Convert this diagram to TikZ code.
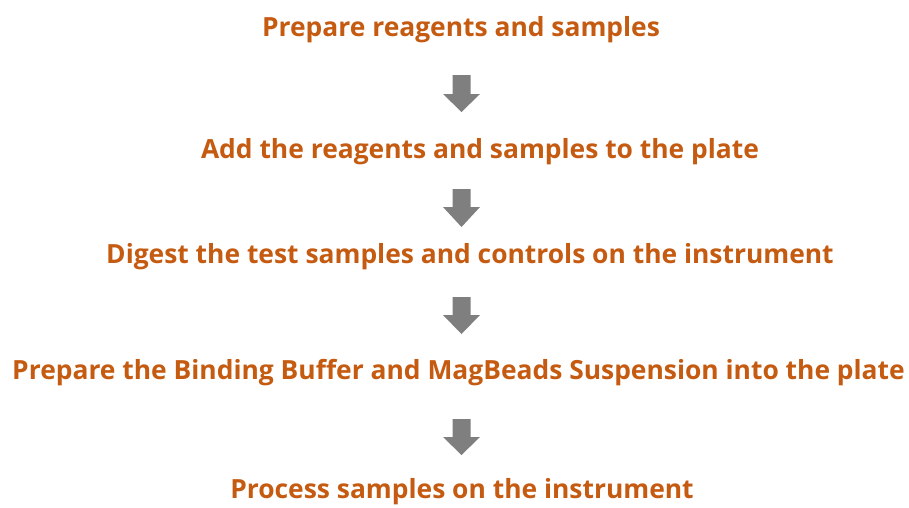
\documentclass[tikz,border=0pt]{standalone}
\usepackage{fontspec}
\setmainfont{Open Sans}[BoldFont={* Bold}]
\definecolor{steporange}{HTML}{C55A11}
\definecolor{arrowgray}{HTML}{7F7F7F}
\begin{document}
\begin{tikzpicture}[x=1pt,y=-1pt,
  steptext/.style={anchor=base,inner sep=0pt,text=steporange,font=\fontsize{26.4}{30}\selectfont\bfseries},
  blockarrow/.style={fill=arrowgray,draw=none}]
\useasboundingbox (0,0) rectangle (909,507);
\node[steptext] (s1) at (461,36.5) {Prepare reagents and samples};
\node[steptext] (s2) at (480,158.3) {Add the reagents and samples to the plate};
\node[steptext] (s3) at (470,263) {Digest the test samples and controls on the instrument};
\node[steptext] (s4) at (458.5,379) {Prepare the Binding Buffer and MagBeads Suspension into the plate};
\node[steptext] (s5) at (462,498.7) {Process samples on the instrument};
\foreach \t/\h/\b [count=\i] in {75/94/112, 189/207/227, 297/315/334, 419/437/455}{
  \fill[blockarrow] (452.5,\t) -- (470.5,\t) -- (470.5,\h) -- (480,\h) -- (461.5,\b) -- (443,\h) -- (452.5,\h) -- cycle;
}
\end{tikzpicture}
\end{document}
